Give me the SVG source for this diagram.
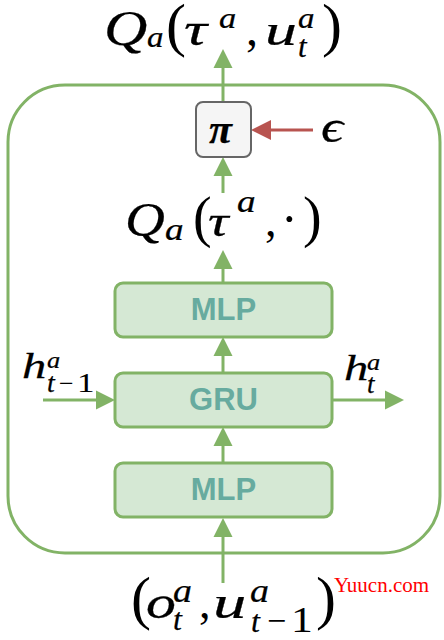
<svg xmlns="http://www.w3.org/2000/svg" width="444" height="640" viewBox="0 0 444 640">
<style>
.box{fill:#d5e8d4;stroke:#82b366;stroke-width:3}
.lbl{font-family:"Liberation Sans",Arial,sans-serif;font-weight:bold;font-size:31px;fill:#67ab9f;text-anchor:middle}
.m{font-family:"Liberation Serif","DejaVu Serif",serif;font-style:italic;fill:#000;stroke:#000;stroke-width:0.25}
.r{font-family:"Liberation Serif","DejaVu Serif",serif;fill:#000}
.g{stroke:#82b366;stroke-width:3;fill:none}
.red{stroke:#b85450;stroke-width:3;fill:none}
</style>
<defs>
<marker id="ag" markerUnits="userSpaceOnUse" markerWidth="20" markerHeight="20" viewBox="0 -10 20 20" refX="0" refY="0" orient="auto">
<path d="M0,-9.5 L19,0 L0,9.5 Z" fill="#82b366"/>
</marker>
<marker id="ar" markerUnits="userSpaceOnUse" markerWidth="22" markerHeight="22" viewBox="0 -11 22 22" refX="0" refY="0" orient="auto">
<path d="M0,-10 L20,0 L0,10 Z" fill="#b85450"/>
</marker>
</defs>
<g id="agent">
<rect x="8" y="85" width="432" height="468" rx="57" ry="57" fill="none" stroke="#82b366" stroke-width="3"/>
</g>
<g id="connectors">
<line class="g" x1="223" y1="583" x2="223" y2="537" marker-end="url(#ag)"/>
<line class="g" x1="223" y1="463" x2="223" y2="446" marker-end="url(#ag)"/>
<line class="g" x1="223" y1="373" x2="223" y2="356" marker-end="url(#ag)"/>
<line class="g" x1="223" y1="283" x2="223" y2="269" marker-end="url(#ag)"/>
<line class="g" x1="223" y1="193" x2="223" y2="176" marker-end="url(#ag)"/>
<line class="g" x1="223" y1="102" x2="223" y2="68" marker-end="url(#ag)"/>
<line class="g" x1="43" y1="400" x2="96" y2="400" marker-end="url(#ag)"/>
<line class="g" x1="332" y1="400" x2="385" y2="400" marker-end="url(#ag)"/>
<line class="red" x1="313" y1="130" x2="271" y2="130" marker-end="url(#ar)"/>
</g>
<g id="mlp2">
<rect class="box" x="115" y="283" width="217" height="54" rx="8"/>
<text class="lbl" x="223.5" y="320">MLP</text>
</g>
<g id="gru">
<rect class="box" x="115" y="373" width="217" height="54" rx="8"/>
<text class="lbl" x="223.5" y="410">GRU</text>
</g>
<g id="mlp1">
<rect class="box" x="115" y="463" width="217" height="54" rx="8"/>
<text class="lbl" x="223.5" y="500">MLP</text>
</g>
<g id="pi">
<rect x="196" y="102" width="55" height="55" rx="7" fill="#f5f5f5" stroke="#666666" stroke-width="2"/>
<text class="m" x="209" y="143" font-size="42" font-weight="bold">π</text>
</g>
<g id="epsilon">
<text class="m" transform="translate(321,142) scale(1.2,1)" font-size="46">ϵ</text>
</g>
<g id="q-out">
<text class="m" transform="translate(104,45) scale(1.2,1)" font-size="50">Q</text>
<text class="m" transform="translate(147,47) scale(1.1,1)" font-size="30">a</text>
<text class="r" x="166" y="45" font-size="60">(</text>
<text class="m" transform="translate(184,45) scale(1.4,1)" font-size="46">τ</text>
<text class="m" transform="translate(219,28) scale(1.15,1)" font-size="30">a</text>
<text class="r" x="246" y="45" font-size="48">,</text>
<text class="m" transform="translate(265,45) scale(1.45,1)" font-size="44">u</text>
<text class="m" transform="translate(298,28) scale(1.1,1)" font-size="30">a</text>
<text class="m" x="298" y="57" font-size="31">t</text>
<text class="r" x="322" y="45" font-size="60">)</text>
</g>
<g id="q-all">
<text class="m" transform="translate(125,236) scale(1.15,1)" font-size="48">Q</text>
<text class="m" transform="translate(165,240) scale(1.2,1)" font-size="31">a</text>
<text class="r" x="193" y="236" font-size="56">(</text>
<text class="m" transform="translate(208,236) scale(1.3,1)" font-size="44">τ</text>
<text class="m" transform="translate(237,212) scale(1.2,1)" font-size="31">a</text>
<text class="r" x="265" y="236" font-size="46">,</text>
<text class="r" x="281" y="236" font-size="50">·</text>
<text class="r" x="303" y="236" font-size="56">)</text>
</g>
<g id="input">
<text class="r" x="131" y="618" font-size="60">(</text>
<text class="m" transform="translate(146,618) scale(1.3,1)" font-size="46">o</text>
<text class="m" transform="translate(173,602) scale(1.15,1)" font-size="33">a</text>
<text class="m" x="173" y="630" font-size="32">t</text>
<text class="r" x="199" y="618" font-size="46">,</text>
<text class="m" transform="translate(213,618) scale(1.45,1)" font-size="46">u</text>
<text class="m" transform="translate(250,602) scale(1.15,1)" font-size="33">a</text>
<text class="m" x="251" y="632" font-size="32">t</text>
<text class="r" x="267" y="632" font-size="34">−</text>
<text class="r" transform="translate(291,632) scale(1.25,1)" font-size="35">1</text>
<text class="r" x="316" y="618" font-size="60">)</text>
</g>
<g id="h-prev">
<text class="m" transform="translate(22,378) scale(1.35,1)" font-size="36">h</text>
<text class="m" transform="translate(47,368) scale(1.1,1)" font-size="24">a</text>
<text class="m" x="47" y="392" font-size="28">t</text>
<text class="r" x="59" y="392" font-size="26">−</text>
<text class="r" transform="translate(77,392) scale(1.25,1)" font-size="28">1</text>
</g>
<g id="h-next">
<text class="m" transform="translate(344,380) scale(1.35,1)" font-size="36">h</text>
<text class="m" transform="translate(367,370) scale(1.1,1)" font-size="24">a</text>
<text class="m" x="367" y="393" font-size="27">t</text>
</g>
<text x="334" y="592" font-family="Liberation Serif,serif" font-size="21" fill="#ff0000">Yuucn.com</text>
</svg>
